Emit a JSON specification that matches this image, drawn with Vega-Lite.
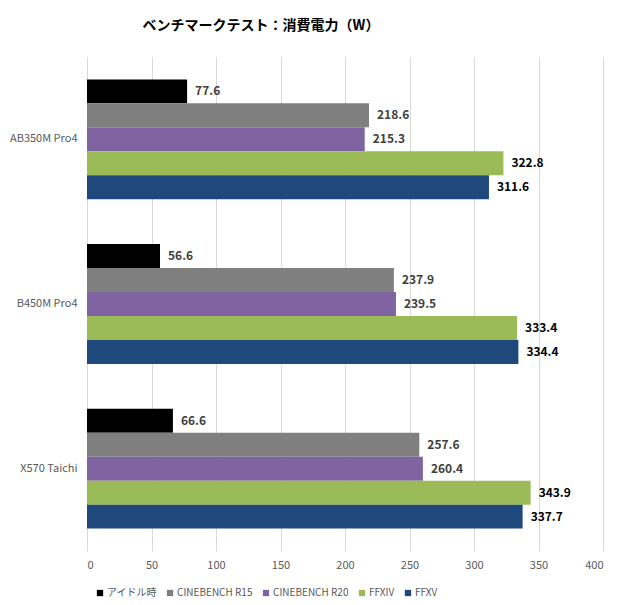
{
  "$schema": "https://vega.github.io/schema/vega-lite/v6.json",
  "autosize": "none",
  "width": 516,
  "height": 494,
  "padding": {"left": 87, "top": 57, "right": 17, "bottom": 54},
  "background": "#ffffff",
  "config": {
    "view": {"stroke": null},
    "font": "Noto Sans CJK JP"
  },
  "title": {
    "text": "ベンチマークテスト：消費電力（W）",
    "fontSize": 14,
    "fontWeight": "bold",
    "color": "#000000",
    "anchor": "middle",
    "dx": -84,
    "offset": 24
  },
  "data": {
    "values": [
      {"board": "AB350M Pro4", "series": "アイドル時", "watt": 77.6},
      {"board": "AB350M Pro4", "series": "CINEBENCH R15", "watt": 218.6},
      {"board": "AB350M Pro4", "series": "CINEBENCH R20", "watt": 215.3},
      {"board": "AB350M Pro4", "series": "FFXIV", "watt": 322.8},
      {"board": "AB350M Pro4", "series": "FFXV", "watt": 311.6},
      {"board": "B450M Pro4", "series": "アイドル時", "watt": 56.6},
      {"board": "B450M Pro4", "series": "CINEBENCH R15", "watt": 237.9},
      {"board": "B450M Pro4", "series": "CINEBENCH R20", "watt": 239.5},
      {"board": "B450M Pro4", "series": "FFXIV", "watt": 333.4},
      {"board": "B450M Pro4", "series": "FFXV", "watt": 334.4},
      {"board": "X570 Taichi", "series": "アイドル時", "watt": 66.6},
      {"board": "X570 Taichi", "series": "CINEBENCH R15", "watt": 257.6},
      {"board": "X570 Taichi", "series": "CINEBENCH R20", "watt": 260.4},
      {"board": "X570 Taichi", "series": "FFXIV", "watt": 343.9},
      {"board": "X570 Taichi", "series": "FFXV", "watt": 337.7}
    ]
  },
  "encoding": {
    "y": {
      "field": "board",
      "type": "nominal",
      "sort": null,
      "scale": {"paddingInner": 0.273, "paddingOuter": 0.136},
      "axis": {
        "title": null,
        "domain": false,
        "ticks": false,
        "labelFontSize": 11,
        "labelColor": "#595959",
        "labelPadding": 10,
        "labelFont": "Noto Sans CJK JP"
      }
    },
    "yOffset": {
      "field": "series",
      "type": "nominal",
      "sort": ["アイドル時", "CINEBENCH R15", "CINEBENCH R20", "FFXIV", "FFXV"],
      "scale": {"paddingInner": 0, "paddingOuter": 0}
    },
    "x": {
      "field": "watt",
      "type": "quantitative",
      "scale": {"domain": [0, 400]},
      "axis": {
        "title": null,
        "values": [0, 50, 100, 150, 200, 250, 300, 350, 400],
        "domain": false,
        "ticks": false,
        "grid": true,
        "gridColor": "#d9d9d9",
        "gridWidth": 1,
        "labelFontSize": 11,
        "labelColor": "#595959",
        "labelPadding": 8,
        "labelFont": "Noto Sans CJK JP"
      }
    }
  },
  "layer": [
    {
      "mark": {"type": "bar"},
      "encoding": {
        "color": {
          "field": "series",
          "type": "nominal",
          "sort": ["アイドル時", "CINEBENCH R15", "CINEBENCH R20", "FFXIV", "FFXV"],
          "scale": {
            "domain": ["アイドル時", "CINEBENCH R15", "CINEBENCH R20", "FFXIV", "FFXV"],
            "range": ["#000000", "#7f7f7f", "#8064a2", "#9bbb59", "#1f497d"]
          },
          "legend": {
            "title": null,
            "orient": "none",
            "direction": "horizontal",
            "legendX": 8,
            "legendY": 531,
            "symbolType": "square",
            "symbolSize": 40,
            "symbolStrokeWidth": 0,
            "labelFontSize": 10,
            "labelColor": "#595959",
            "labelOffset": 2,
            "columnPadding": 8,
            "labelFont": "Noto Sans CJK JP"
          }
        }
      }
    },
    {
      "mark": {
        "type": "text",
        "align": "left",
        "baseline": "middle",
        "dx": 8,
        "fontSize": 12,
        "fontWeight": "bold",
        "font": "Noto Sans CJK JP"
      },
      "encoding": {
        "text": {"field": "watt", "type": "quantitative", "format": ".1f"},
        "color": {
          "condition": {"test": "datum.series === 'FFXIV' || datum.series === 'FFXV'", "value": "#000000"},
          "value": "#404040"
        }
      }
    }
  ]
}
